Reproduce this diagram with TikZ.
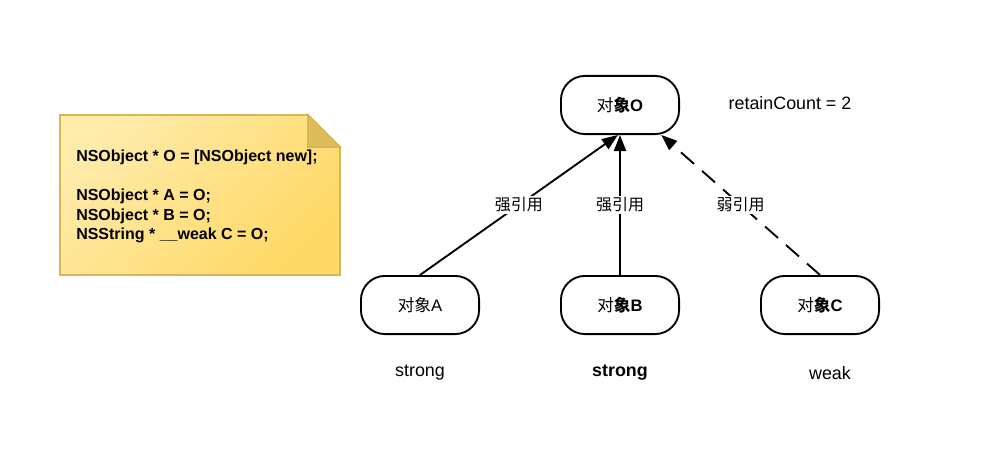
\documentclass[tikz,border=0pt]{standalone}
\usepackage{fontspec}
\setmainfont{Liberation Sans}
\newfontfamily\cjk{Noto Sans CJK SC}
\usetikzlibrary{arrows.meta,calc}
\definecolor{NoteLight}{HTML}{FFEBAA}
\definecolor{NoteDark}{HTML}{FFD966}
\definecolor{NoteEdge}{HTML}{D6B656}

\begin{document}
\begin{tikzpicture}[x=0.75pt, y=-0.75pt,
    obj/.style={rectangle, rounded corners=18pt, draw=black, line width=1.4pt, fill=white, minimum width=88.6pt, minimum height=43.6pt, font=\fontsize{12.5}{14}\selectfont},
    tag/.style={font=\fontsize{13.4}{15}\selectfont},
    ref/.style={-{Triangle[length=12pt,width=9pt]}, line width=1.4pt},
    weakref/.style={ref, dash pattern=on 13pt off 8pt},
    lbl/.style={fill=white, inner sep=1.5pt, font=\cjk\fontsize{12}{14}\selectfont}
]
    \useasboundingbox (0,0) rectangle (995,453);

    % Note with code
    \path[draw=NoteEdge, line width=1.2pt, top color=NoteLight, bottom color=NoteDark, shading angle=45]
        (60,115) -- (308,115) -- (340,147) -- (340,275) -- (60,275) -- cycle;
    \path[fill=NoteEdge!80!NoteDark, draw=NoteEdge, line width=1.2pt] (308,115) -- (308,147) -- (340,147) -- cycle;
    \node[anchor=north west, inner sep=0pt, align=left, font=\bfseries\fontsize{12}{14.6}\selectfont] (code) at (76,150)
        {NSObject * O = [NSObject new];\\[14.6pt]NSObject * A = O;\\NSObject * B = O;\\NSString * \_\_weak C = O;};

    % Objects
    \node[obj] (O) at (620,105) {{\cjk 对}\textbf{{\cjk 象}O}};
    \node[obj] (A) at (420,305) {{\cjk 对象}A};
    \node[obj] (B) at (620,305) {{\cjk 对}\textbf{{\cjk 象}B}};
    \node[obj] (C) at (820,305) {{\cjk 对}\textbf{{\cjk 象}C}};

    % Texts
    \node[tag] (count) at (790,103) {retainCount = 2};
    \node[tag] (tagA) at (420,373) {strong};
    \node[tag, font=\bfseries\fontsize{13.4}{15}\selectfont] (tagB) at (620,373) {strong};
    \node[tag] (tagC) at (830,373) {weak};

    % References
    \draw[ref] (A.north) -- (O.-94) node[lbl, pos=0.5] {强引用};
    \draw[ref] (B.north) -- (O.south) node[lbl, pos=0.5] {强引用};
    \draw[weakref] (C.north) -- (O.-36.87) node[lbl, pos=0.5] {弱引用};
\end{tikzpicture}
\end{document}
